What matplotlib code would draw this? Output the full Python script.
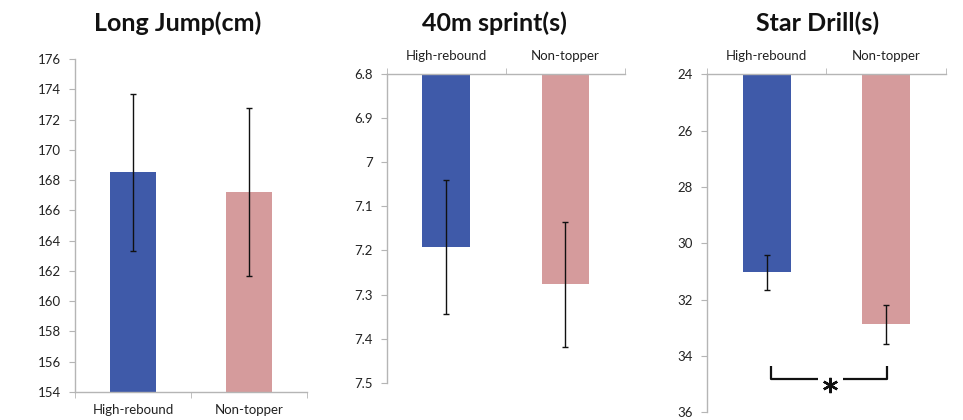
import numpy as np
import matplotlib.pyplot as plt

# values
groups = ['High-rebound', 'Non-topper']
colors = ['#3f5aa9', '#d59b9c']

jump_mean = [168.5, 167.2]
jump_err = [5.2, 5.55]

sprint_mean = [7.193, 7.277]
sprint_err = [0.152, 0.141]

drill_mean = [31.03, 32.88]
drill_err = [0.61, 0.69]

titles = ['Long Jump(cm)', '40m sprint(s)', 'Star Drill(s)']
title_x = [0.184, 0.513, 0.849]

plt.rcParams['font.family'] = ['Lato', 'DejaVu Sans']
spine_c = '#b5b5b5'

fig = plt.figure(figsize=(9.63, 4.2), dpi=100)
ax1 = fig.add_axes([0.0779, 0.0667, 0.2409, 0.7929])
ax2 = fig.add_axes([0.4016, 0.0888, 0.2475, 0.7345])
ax3 = fig.add_axes([0.7339, 0.0183, 0.2485, 0.8048])

x = np.arange(len(groups))


def style(ax, top):
    for s in ax.spines.values():
        s.set_color(spine_c)
        s.set_linewidth(1.0)
    ax.spines['right'].set_visible(False)
    if top:
        ax.spines['bottom'].set_visible(False)
        ax.xaxis.tick_top()
        ax.xaxis.set_label_position('top')
    else:
        ax.spines['top'].set_visible(False)
    ax.set_xlim(-0.5, 1.5)
    ax.set_xticks(x)
    ax.set_xticklabels(groups)
    ax.set_xticks([-0.5, 0.5, 1.5], minor=True)
    ax.tick_params(axis='x', which='major', length=0, labelsize=9.5, pad=9, colors='#222222')
    ax.tick_params(axis='x', which='minor', length=4, color=spine_c, direction='out')
    ax.tick_params(axis='y', length=4, color=spine_c, labelsize=9.5, pad=6, labelcolor='#222222')


# Long jump
ax1.bar(x, np.array(jump_mean) - 154, bottom=154, width=0.4, color=colors)
ax1.errorbar(x, jump_mean, yerr=jump_err, fmt='none', ecolor='#111111', elinewidth=1, capsize=2.5, capthick=1)
ax1.set_ylim(154, 176)
ax1.set_yticks(np.arange(154, 177, 2))
style(ax1, False)

# 40m sprint (inverted)
ax2.bar(x, np.array(sprint_mean) - 6.8, bottom=6.8, width=0.4, color=colors)
ax2.errorbar(x, sprint_mean, yerr=sprint_err, fmt='none', ecolor='#111111', elinewidth=1, capsize=2.5, capthick=1)
ax2.set_ylim(7.5, 6.8)
ax2.set_yticks([6.8, 6.9, 7.0, 7.1, 7.2, 7.3, 7.4, 7.5])
ax2.set_yticklabels(['6.8', '6.9', '7', '7.1', '7.2', '7.3', '7.4', '7.5'])
style(ax2, True)

# Star drill (inverted)
ax3.bar(x, np.array(drill_mean) - 24, bottom=24, width=0.4, color=colors)
ax3.errorbar(x, drill_mean, yerr=drill_err, fmt='none', ecolor='#111111', elinewidth=1, capsize=2.5, capthick=1)
ax3.set_ylim(36, 24)
ax3.set_yticks(np.arange(24, 37, 2))
style(ax3, True)

# significance bracket
bk = dict(color='#111111', lw=1.6, solid_capstyle='butt')
ax3.plot([0.037, 0.037, 0.43], [34.36, 34.82, 34.82], **bk)
ax3.plot([0.637, 1.004, 1.004], [34.82, 34.82, 34.36], **bk)
ax3.plot([0.533], [35.04], marker=(6, 2, 0), ms=11, mew=1.7, color='#111111')

# titles
for tx, t in zip(title_x, titles):
    fig.text(tx, 0.945, t, ha='center', va='center', fontsize=18, fontweight='bold', color='#111111')

fig.savefig('out.png', dpi=100)
